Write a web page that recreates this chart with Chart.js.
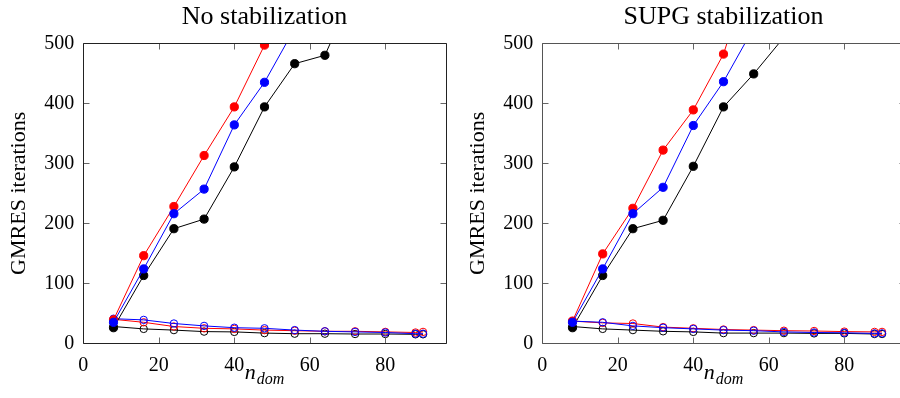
<!DOCTYPE html>
<html>
<head>
<meta charset="utf-8">
<script src="https://cdn.jsdelivr.net/npm/chart.js@4/dist/chart.umd.min.js"></script>
<style>
  html, body { margin: 0; padding: 0; background: #fff; overflow: hidden; width: 900px; height: 398px; }
  .panel { position: absolute; top: 0; width: 460px; height: 398px; }
</style>
</head>
<body>
<div class="panel" style="left:0px"><canvas id="noStab" width="460" height="398"></canvas></div>
<div class="panel" style="left:459px"><canvas id="supg" width="460" height="398"></canvas></div>
<script>
// Number of subdomains
const nDom = [8, 16, 24, 32, 40, 48, 56, 64, 72, 80, 88, 90];

// Axis ticks
const xTicks = [0, 20, 40, 60, 80];
const yTicks = [0, 100, 200, 300, 400, 500];

// No stabilization: one-level (filled) runs
const noStabRedFilled   = [39, 146, 228, 313, 394, 497, 610];
const noStabBlueFilled  = [35, 124, 216, 257, 364, 435, 525];
const noStabBlackFilled = [26, 113, 191, 207, 294, 394, 466, 480, 592];
// No stabilization: two-level (open) runs
const noStabRedOpen   = [40, 35, 28, 25, 24, 22, 21, 20, 20, 19, 18, 19];
const noStabBlueOpen  = [41, 39, 33, 29, 26, 25, 22, 20, 19, 18, 16, 16];
const noStabBlackOpen = [28, 24, 22, 19.5, 19, 17, 16, 16, 15.5, 15.5, 15, 15];

// SUPG stabilization: one-level (filled) runs
const supgRedFilled   = [37, 149, 225, 322, 389, 482, 640];
const supgBlueFilled  = [35, 124, 216, 260, 363, 436, 526];
const supgBlackFilled = [26, 113, 191, 205, 295, 394, 449, 510];
// SUPG stabilization: two-level (open) runs
const supgRedOpen   = [37, 34, 33, 27, 25, 23, 22, 21, 20.5, 19.5, 19, 19];
const supgBlueOpen  = [37, 35, 29, 26, 24, 22, 21, 19, 18, 17.5, 16.5, 16.5];
const supgBlackOpen = [28, 24, 22, 20, 19, 17, 17, 17, 16.5, 16.5, 15.5, 15.5];

const SERIF = "'Liberation Serif', 'Times New Roman', serif";
Chart.defaults.font.family = SERIF;
Chart.defaults.color = '#000';

function pts(values) {
  return values.map((v, i) => ({ x: nDom[i], y: v }));
}

function series(values, color, filled, order) {
  return {
    data: pts(values),
    borderColor: color,
    borderWidth: 1,
    pointBackgroundColor: filled ? color : 'rgba(0,0,0,0)',
    pointBorderColor: color,
    pointBorderWidth: 1,
    pointRadius: filled ? 4.1 : 3.7,
    pointHoverRadius: filled ? 4.1 : 3.7,
    tension: 0,
    fill: false,
    order: order
  };
}

// Box with inward ticks on all four sides, plus title and subscripted x label
const pgfFrame = {
  id: 'pgfFrame',
  afterDraw(chart, args, opts) {
    const { ctx, chartArea: a, scales: { x, y } } = chart;
    const L = Math.round(a.left) + 0.5, R = Math.round(a.right) + 0.5;
    const T = Math.round(a.top) + 0.5, B = Math.round(a.bottom) + 0.5;
    const tl = 6;
    ctx.save();
    ctx.strokeStyle = '#666';
    ctx.lineWidth = 1;
    ctx.beginPath();
    xTicks.forEach(v => {
      const px = Math.round(x.getPixelForValue(v)) + 0.5;
      ctx.moveTo(px, B); ctx.lineTo(px, B - tl);
      ctx.moveTo(px, T); ctx.lineTo(px, T + tl);
    });
    yTicks.forEach(v => {
      const py = Math.round(y.getPixelForValue(v)) + 0.5;
      ctx.moveTo(L, py); ctx.lineTo(L + tl, py);
      ctx.moveTo(R, py); ctx.lineTo(R - tl, py);
    });
    ctx.stroke();

    ctx.strokeStyle = opts.frameColor || '#222';
    ctx.beginPath();
    ctx.rect(L, T, R - L, B - T);
    ctx.stroke();

    // title
    ctx.fillStyle = '#000';
    ctx.font = '26px ' + SERIF;
    ctx.textAlign = 'center';
    ctx.textBaseline = 'alphabetic';
    const cx = (a.left + a.right) / 2;
    ctx.fillText(opts.title, cx, a.top - 19.3);

    // x label: n with subscript "dom"
    ctx.textAlign = 'left';
    ctx.font = 'italic 22px ' + SERIF;
    const wN = ctx.measureText('n').width;
    ctx.font = 'italic 16px ' + SERIF;
    const wSub = ctx.measureText('dom').width;
    const x0 = cx - (wN + 1 + wSub) / 2;
    ctx.font = 'italic 22px ' + SERIF;
    ctx.fillText('n', x0, a.bottom + 35.5);
    ctx.font = 'italic 16px ' + SERIF;
    ctx.fillText('dom', x0 + wN + 1, a.bottom + 40.5);
    ctx.restore();
  }
};

function makeChart(id, title, frameColor, red, blue, black, redO, blueO, blackO) {
  return new Chart(document.getElementById(id), {
    type: 'line',
    data: {
      datasets: [
        series(blue, '#0000ff', true, 1),
        series(red, '#ff0000', true, 2),
        series(black, '#000000', true, 3),
        series(blueO, '#0000ff', false, 4),
        series(redO, '#ff0000', false, 5),
        series(blackO, '#000000', false, 6)
      ]
    },
    options: {
      responsive: false,
      animation: false,
      devicePixelRatio: 1,
      events: [],
      layout: { padding: { top: 43.3, right: 14.3, left: 0, bottom: 0 } },
      plugins: {
        legend: { display: false },
        tooltip: { enabled: false },
        title: { display: false },
        pgfFrame: { title: title, frameColor: frameColor }
      },
      scales: {
        x: {
          type: 'linear',
          min: 0, max: 96,
          afterBuildTicks(scale) { scale.ticks = xTicks.map(v => ({ value: v })); },
          afterFit(scale) { scale.height = 54.7; },
          grid: { display: false, drawTicks: false },
          border: { display: false },
          ticks: { color: '#000', padding: 10, maxRotation: 0, font: { family: SERIF, size: 20 } }
        },
        y: {
          type: 'linear',
          min: 0, max: 500,
          afterBuildTicks(scale) { scale.ticks = yTicks.map(v => ({ value: v })); },
          afterFit(scale) { scale.width = 83.3; },
          grid: { display: false, drawTicks: false },
          border: { display: false },
          ticks: { color: '#000', padding: 9, font: { family: SERIF, size: 20 } },
          title: {
            display: true, text: 'GMRES iterations', color: '#000',
            font: { family: SERIF, size: 22 }, padding: { top: 6, bottom: 0 }
          }
        }
      }
    },
    plugins: [pgfFrame]
  });
}

makeChart('noStab', 'No stabilization', '#222',
  noStabRedFilled, noStabBlueFilled, noStabBlackFilled,
  noStabRedOpen, noStabBlueOpen, noStabBlackOpen);

makeChart('supg', 'SUPG stabilization', '#555',
  supgRedFilled, supgBlueFilled, supgBlackFilled,
  supgRedOpen, supgBlueOpen, supgBlackOpen);
</script>
</body>
</html>
